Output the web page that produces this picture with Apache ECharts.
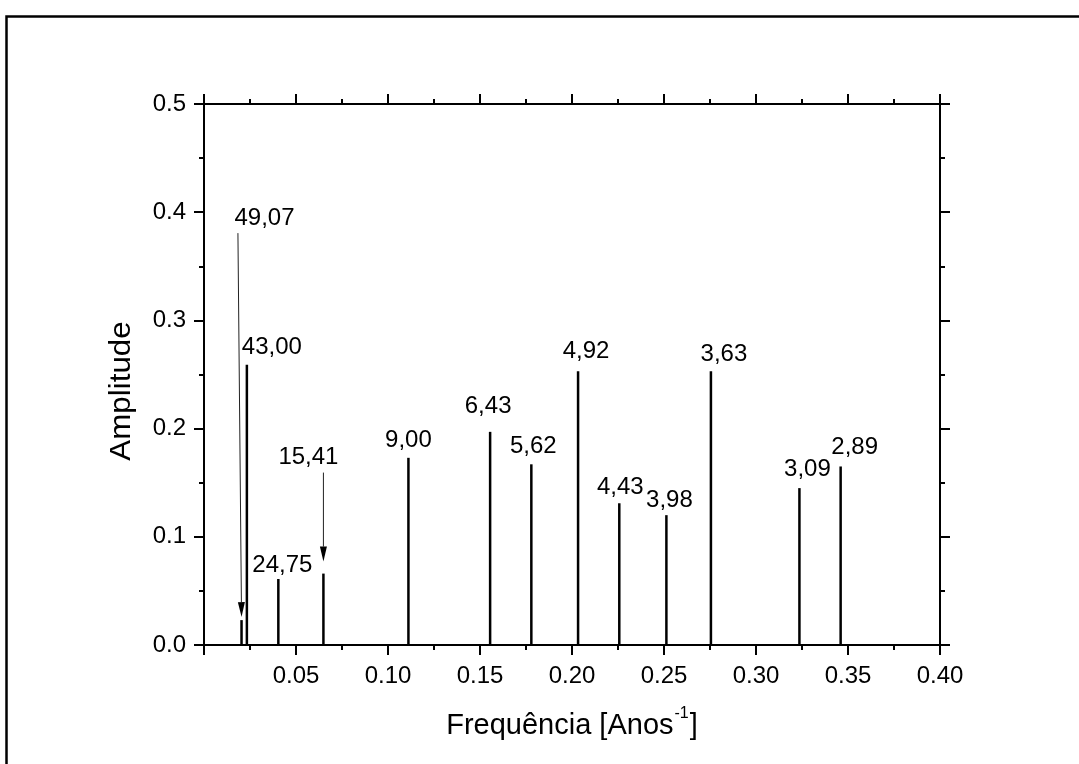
<!DOCTYPE html>
<html>
<head>
<meta charset="utf-8">
<script src="https://cdn.jsdelivr.net/npm/echarts@6/dist/echarts.min.js"></script>
<style>html,body{margin:0;padding:0;background:#fff;}#c{width:1079px;height:764px;}</style>
</head>
<body>
<div id="c"></div>
<script>
// ---- data ----
const frequencies = [0.0204, 0.0233, 0.0404, 0.0649, 0.1111, 0.1555, 0.1779, 0.2033, 0.2257, 0.2513, 0.2755, 0.3236, 0.3460];
const amplitudes  = [0.023, 0.259, 0.061, 0.066, 0.173, 0.197, 0.167, 0.253, 0.131, 0.120, 0.253, 0.145, 0.165];
const periodLabels = ['49,07','43,00','24,75','15,41','9,00','6,43','5,62','4,92','4,43','3,98','3,63','3,09','2,89'];
const xTitle = 'Frequência [Anos';
const xTitleSup = '-1';
const yTitle = 'Amplitude';

// ---- styling of annotations (pixel offsets relative to stem top) ----
const labelOffsets = [[23,-402],[25,-17],[4,-14],[-15,-116],[0,-17],[-2,-25],[2,-18],[8,-20],[1,-16],[3,-15],[13,-17],[8,-19],[14,-19]];
const arrowStyles = {0: {tail: [-3.6, -387], tip: [0, -3]}, 3: {tail: [0, -101], tip: [0, -12]}};

const FONT = 'Liberation Sans, Arial, sans-serif';
const chart = echarts.init(document.getElementById('c'));

const axisCommon = {
  type: 'value',
  axisLine: {show: true, onZero: false, lineStyle: {color: '#000', width: 2}},
  axisTick: {show: true, inside: false, length: 10, lineStyle: {color: '#000', width: 2}},
  minorTick: {show: true, splitNumber: 2, length: 5, lineStyle: {color: '#000', width: 2}},
  splitLine: {show: false},
  minorSplitLine: {show: false}
};

function renderStem(params, api) {
  const i = params.dataIndex;
  const x = api.value(0), y = api.value(1);
  const base = api.coord([x, 0]);
  const top = api.coord([x, y]);
  const off = labelOffsets[i];
  const children = [
    {type: 'line', shape: {x1: base[0], y1: base[1], x2: top[0], y2: top[1]},
     style: {stroke: '#000', lineWidth: 2.5}},
    {type: 'text', x: top[0] + off[0], y: top[1] + off[1],
     style: {text: periodLabels[i], fill: '#000', font: '24px ' + FONT, align: 'center', verticalAlign: 'middle'}}
  ];
  const ar = arrowStyles[i];
  if (ar) {
    const tx = top[0] + ar.tail[0], ty = top[1] + ar.tail[1];
    const px = top[0] + ar.tip[0], py = top[1] + ar.tip[1];
    const dx = px - tx, dy = py - ty, len = Math.sqrt(dx*dx + dy*dy);
    const ux = dx/len, uy = dy/len;
    const hl = 15, hw = 3.5;
    const bx = px - ux*hl, by = py - uy*hl;
    children.push({type: 'line', shape: {x1: tx, y1: ty, x2: bx, y2: by}, style: {stroke: '#222', lineWidth: 1}});
    children.push({type: 'polygon', shape: {points: [[px, py], [bx - uy*hw, by + ux*hw], [bx + uy*hw, by - ux*hw]]},
      style: {fill: '#000'}});
  }
  return {type: 'group', children: children};
}

chart.setOption({
  animation: false,
  backgroundColor: '#fff',
  grid: {left: 204, right: 139, top: 104, bottom: 119},
  xAxis: [
    Object.assign({}, axisCommon, {position: 'bottom', min: 0, max: 0.4, interval: 0.05,
      axisLabel: {show: true, margin: 19, color: '#000', fontSize: 24, fontFamily: FONT,
        formatter: v => (v === 0 ? '' : v.toFixed(2))}}),
    Object.assign({}, axisCommon, {position: 'top', min: 0, max: 0.4, interval: 0.05, axisLabel: {show: false}})
  ],
  yAxis: [
    Object.assign({}, axisCommon, {position: 'left', min: 0, max: 0.5, interval: 0.1,
      axisLabel: {show: true, margin: 18, color: '#000', fontSize: 24, fontFamily: FONT,
        formatter: v => v.toFixed(1)}}),
    Object.assign({}, axisCommon, {position: 'right', min: 0, max: 0.5, interval: 0.1, axisLabel: {show: false}})
  ],
  series: [{
    type: 'custom',
    xAxisIndex: 0, yAxisIndex: 0,
    renderItem: renderStem,
    clip: false,
    data: frequencies.map((f, i) => [f, amplitudes[i]])
  }],
  graphic: [
    {type: 'rect', left: 4, top: 14, shape: {x: 0, y: 0, width: 1100, height: 800},
     style: {fill: 'none', stroke: '#000', lineWidth: 2.5}, silent: true},
    {type: 'text', x: 572, y: 723,
     style: {text: '{a|' + xTitle + '}{s|' + xTitleSup + '}{a|]}', align: 'center', verticalAlign: 'middle',
       rich: {a: {fontSize: 29, fontFamily: FONT, fill: '#000', lineHeight: 34, verticalAlign: 'bottom'},
              s: {fontSize: 16, fontFamily: FONT, fill: '#000', lineHeight: 34, verticalAlign: 'top', padding: [0, 1, 0, 1]}}}},
    {type: 'text', x: 122, y: 391, rotation: Math.PI/2, scaleX: 1.08,
     style: {text: yTitle, align: 'center', verticalAlign: 'middle', font: '29px ' + FONT, fill: '#000'}}
  ]
});
</script>
</body>
</html>
